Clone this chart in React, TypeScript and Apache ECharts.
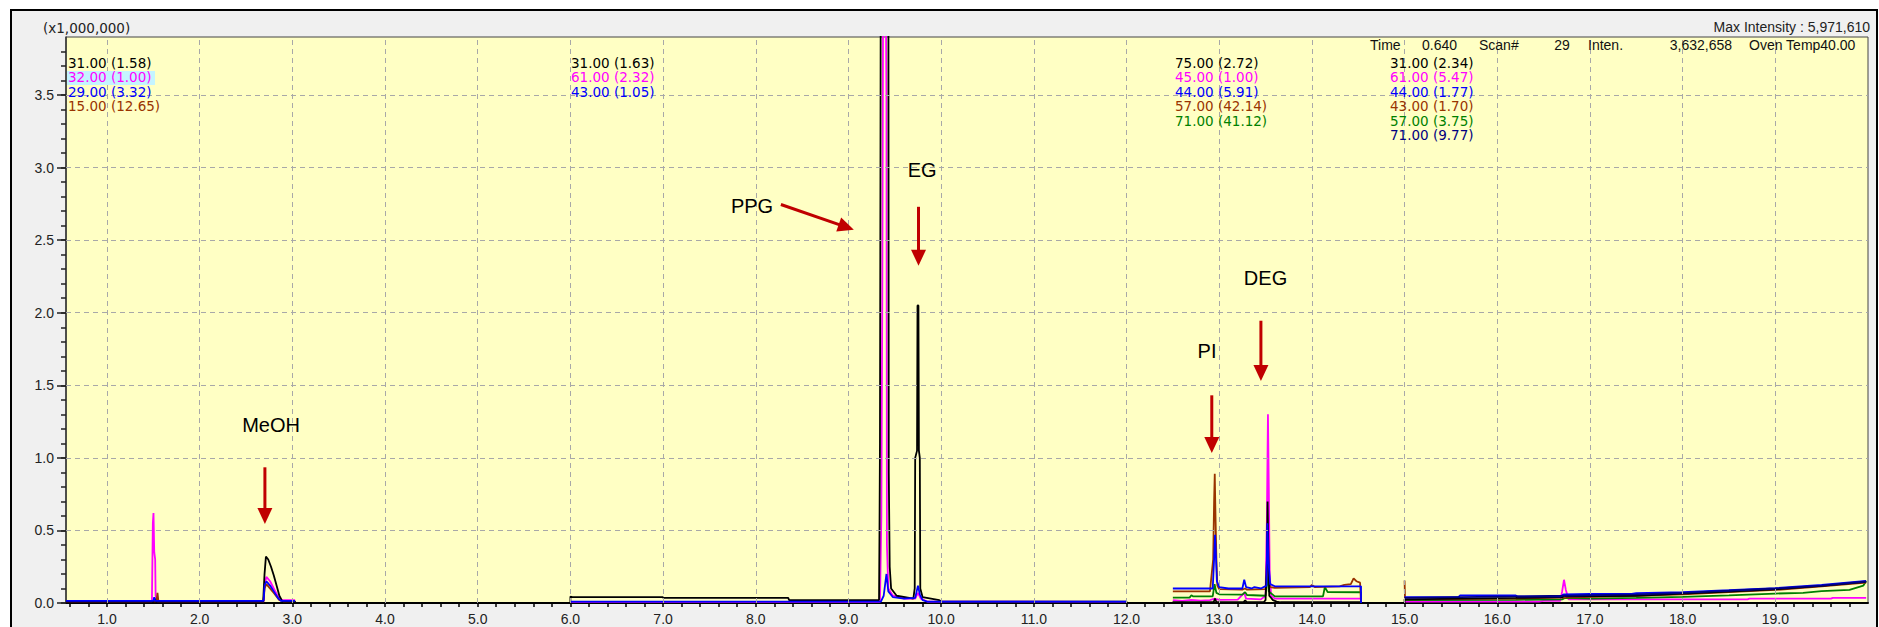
import React, { useEffect, useRef } from "react";
import * as echarts from "echarts";

const W = 1879;
const H = 627;

// ---- axis ranges / ticks ----
const X_MIN = 0.558;
const X_MAX = 20.0;
const Y_MAX = 3.9;
const xLabelValues = [1, 2, 3, 4, 5, 6, 7, 8, 9, 10, 11, 12, 13, 14, 15, 16, 17, 18, 19];
const yLabelValues = [0, 0.5, 1, 1.5, 2, 2.5, 3, 3.5];
const xGridValues = xLabelValues;
const yGridValues = [0.5, 1, 1.5, 2, 2.5, 3, 3.5];
const xMinorTicks: number[] = [];
for (let i = 3; i <= 99; i++) xMinorTicks.push(Math.round(i * 2) / 10);
const yMinorTicks: number[] = [];
for (let i = 0; i <= 38; i++) yMinorTicks.push(i / 10);

// ---- header texts ----
const scaleText = "(x1,000,000)";
const maxIntensityText = "Max Intensity : 5,971,610";
const headerParts: [string, number, "left" | "right" | "center"][] = [
  ["Time", 1370, "left"],
  ["0.640", 1422, "left"],
  ["Scan#", 1479, "left"],
  ["29", 1562, "center"],
  ["Inten.", 1588, "left"],
  ["3,632,658", 1732, "right"],
  ["Oven Temp40.00", 1749, "left"],
];

// ---- ion legend groups (text, colour key) ----
const group1Ions = ["31.00 (1.58)", "32.00 (1.00)", "29.00 (3.32)", "15.00 (12.65)"];
const group1Colors = ["black", "magenta", "blue", "brown"];
const group2Ions = ["31.00 (1.63)", "61.00 (2.32)", "43.00 (1.05)"];
const group2Colors = ["black", "magenta", "blue"];
const group3Ions = ["75.00 (2.72)", "45.00 (1.00)", "44.00 (5.91)", "57.00 (42.14)", "71.00 (41.12)"];
const group3Colors = ["black", "magenta", "blue", "brown", "green"];
const group4Ions = ["31.00 (2.34)", "61.00 (5.47)", "44.00 (1.77)", "43.00 (1.70)", "57.00 (3.75)", "71.00 (9.77)"];
const group4Colors = ["black", "magenta", "blue", "brown", "green", "navy"];

const COLORS: Record<string, string> = {
  black: "#000000",
  magenta: "#FF00FF",
  blue: "#0000FF",
  brown: "#993300",
  green: "#008000",
  navy: "#000080",
};

// ---- traces: [time (min), intensity (x1,000,000)] ----
type P = [number, number | null];
const blackTrace: P[] = [
  [0.558, 0.01], [1.5, 0.01], [1.515, 0.03], [1.53, 0.01], [2.685, 0.01], [2.7, 0.2], [2.715, 0.32],
  [2.74, 0.3], [2.77, 0.25], [2.8, 0.19], [2.83, 0.12], [2.86, 0.05], [2.89, 0.015], [3.03, 0.01],
  [3.03, 0], [6.0, 0], [6.0, 0.045], [6.02, 0.04], [7.0, 0.04], [7.0, 0.035], [8.35, 0.035], [8.36, 0.02],
  [9.33, 0.02], [9.335, 0.5], [9.34, 1.1], [9.345, 2.9], [9.35, 5.0], [9.43, 5.0], [9.435, 0.9], [9.445, 0.25],
  [9.46, 0.1], [9.52, 0.05], [9.7, 0.03], [9.715, 0.1], [9.72, 1.0], [9.74, 1.05], [9.745, 2.05],
  [9.755, 2.05], [9.76, 1.05], [9.77, 1.0], [9.775, 0.1], [9.8, 0.04], [9.98, 0.02], [10.0, 0.01],
  [12.0, 0.01], [12.0, 0], [12.5, 0], [12.5, 0.005], [12.94, 0.005], [12.955, 0.03], [12.97, 0.005],
  [13.26, 0.005], [13.28, 0.018], [13.3, 0.005], [13.48, 0.005], [13.5, 0.02], [13.515, 0.3],
  [13.522, 0.7], [13.53, 0.4], [13.54, 0.05], [13.58, 0.02], [13.62, 0.01], [13.66, 0.005],
  [14.53, 0.005], [14.53, 0], [15.0, 0], [15.0, 0.025], [15.6, 0.03], [16.2, 0.035], [16.7, 0.04],
  [16.72, 0.05], [16.75, 0.045], [17.5, 0.05], [18.0, 0.065], [18.5, 0.078], [19.0, 0.094],
  [19.5, 0.118], [19.98, 0.145],
];
const magentaTrace: P[] = [
  [0.558, 0.012], [1.485, 0.012], [1.495, 0.55], [1.502, 0.62], [1.51, 0.35], [1.52, 0.3], [1.525, 0.05],
  [1.54, 0.012], [2.69, 0.012], [2.7, 0.12], [2.72, 0.18], [2.76, 0.15], [2.8, 0.1], [2.84, 0.05],
  [2.88, 0.02], [3.03, 0.02], [3.03, null],
  [6.0, 0.008], [9.34, 0.008], [9.355, 0.6], [9.365, 2.1], [9.375, 4.5], [9.4, 4.5], [9.41, 3.5],
  [9.415, 0.4], [9.43, 0.1], [9.48, 0.05], [9.6, 0.03], [9.72, 0.03], [9.75, 0.07], [9.78, 0.03],
  [9.85, 0.01], [12.0, 0.008], [12.0, null],
  [12.5, 0.02], [12.6, 0.015], [12.7, 0.022], [12.8, 0.016], [12.9, 0.02], [12.95, 0.03], [13.0, 0.022],
  [13.2, 0.023], [13.27, 0.07], [13.29, 0.03], [13.45, 0.025], [13.5, 0.05], [13.515, 0.6],
  [13.526, 1.3], [13.535, 0.8], [13.545, 0.2], [13.56, 0.05], [13.6, 0.03], [14.53, 0.03], [14.53, 0],
  [14.53, null],
  [15.0, 0.01], [16.45, 0.01], [16.5, 0.015], [16.68, 0.015], [16.7, 0.08], [16.72, 0.16], [16.74, 0.09],
  [16.77, 0.025], [18.7, 0.025], [18.72, 0.03], [19.6, 0.03], [19.62, 0.035], [19.98, 0.035],
];
const blueTrace: P[] = [
  [0.558, 0.014], [1.5, 0.014], [1.51, 0.04], [1.52, 0.014], [2.69, 0.014], [2.7, 0.12], [2.72, 0.15],
  [2.76, 0.12], [2.8, 0.08], [2.85, 0.03], [2.88, 0.014], [3.03, 0.014], [3.03, null],
  [6.0, 0.01], [9.35, 0.01], [9.38, 0.05], [9.41, 0.2], [9.43, 0.08], [9.48, 0.04], [9.6, 0.03],
  [9.72, 0.035], [9.75, 0.12], [9.77, 0.06], [9.8, 0.02], [9.85, 0.01], [12.0, 0.01], [12.0, null],
  [12.5, 0.1], [12.93, 0.1], [12.945, 0.3], [12.955, 0.47], [12.965, 0.32], [12.975, 0.15], [13.0, 0.11],
  [13.1, 0.1], [13.25, 0.1], [13.27, 0.16], [13.29, 0.11], [13.35, 0.1], [13.38, 0.11], [13.45, 0.1],
  [13.51, 0.12], [13.52, 0.55], [13.53, 0.3], [13.55, 0.13], [13.6, 0.115], [14.53, 0.115], [14.53, 0],
  [14.53, null],
  [15.0, 0.04], [15.58, 0.04], [15.6, 0.052], [16.2, 0.052], [16.22, 0.045], [16.68, 0.045], [16.72, 0.06],
  [17.0, 0.062], [17.45, 0.062], [17.5, 0.068], [18.0, 0.075], [18.5, 0.088], [19.0, 0.102],
  [19.5, 0.125], [19.98, 0.152],
];
const brownTrace: P[] = [
  [0.558, 0.012], [1.535, 0.012], [1.545, 0.07], [1.555, 0.012], [2.69, 0.012], [2.7, 0.1], [2.72, 0.13],
  [2.8, 0.07], [2.86, 0.02], [2.9, 0.012], [3.03, 0.012], [3.03, null],
  [12.5, 0.08], [12.9, 0.08], [12.935, 0.3], [12.945, 0.7], [12.952, 0.89], [12.96, 0.6], [12.97, 0.3],
  [12.98, 0.12], [13.0, 0.095], [13.25, 0.092], [13.28, 0.1], [13.3, 0.092], [13.5, 0.095], [13.515, 0.2],
  [13.522, 0.375], [13.53, 0.2], [13.55, 0.11], [13.6, 0.105], [13.98, 0.11], [14.0, 0.125],
  [14.03, 0.11], [14.3, 0.115], [14.35, 0.125], [14.42, 0.13], [14.45, 0.17], [14.48, 0.15],
  [14.52, 0.14], [14.53, 0], [14.53, null],
  [15.0, 0.155], [15.005, 0.025], [16.2, 0.03], [16.7, 0.038], [17.5, 0.05], [18.0, 0.06], [18.5, 0.075],
  [19.0, 0.09], [19.5, 0.115], [19.98, 0.14],
];
const greenTrace: P[] = [
  [12.5, 0.037], [12.68, 0.037], [12.7, 0.053], [12.72, 0.045], [12.93, 0.045], [12.95, 0.13],
  [12.97, 0.07], [13.0, 0.06], [13.25, 0.058], [13.28, 0.075], [13.3, 0.055], [13.5, 0.05], [13.52, 0.2],
  [13.535, 0.08], [13.6, 0.046], [14.12, 0.046], [14.14, 0.11], [14.17, 0.075], [14.53, 0.074],
  [14.53, 0], [14.53, null],
  [15.0, 0.02], [16.2, 0.022], [16.7, 0.025], [16.73, 0.035], [17.0, 0.03], [17.5, 0.035], [18.0, 0.042],
  [18.5, 0.052], [19.0, 0.065], [19.3, 0.07], [19.5, 0.082], [19.8, 0.09], [19.95, 0.12], [19.98, 0.152],
];
const navyTrace: P[] = [
  [15.0, 0.035], [15.6, 0.04], [16.2, 0.045], [16.7, 0.05], [17.5, 0.06], [18.0, 0.07], [18.5, 0.085],
  [19.0, 0.1], [19.5, 0.12], [19.98, 0.148],
];

// ---- peak annotations (data coords) ----
const peakNames = ["MeOH", "PPG", "EG", "PI", "DEG"];
const peakLabelAt: [number, number][] = [[2.77, 1.224], [7.96, 2.738], [9.795, 2.986], [12.869, 1.737], [13.5, 2.24]];
const arrowFrom: [number, number][] = [[2.704, 0.935], [8.271, 2.746], [9.756, 2.73], [12.92, 1.431], [13.45, 1.945]];
const arrowTo: [number, number][] = [[2.704, 0.545], [9.058, 2.572], [9.756, 2.324], [12.92, 1.033], [13.45, 1.53]];

const FONT = '"Liberation Sans", Arial, sans-serif';
const LEG_FONT = '"DejaVu Sans", sans-serif';

export default function App() {
  const ref = useRef<HTMLDivElement>(null);
  useEffect(() => {
    const chart = echarts.init(ref.current!, null, { renderer: "svg" });
    const line = (data: P[], color: string) => ({
      type: "line",
      data,
      symbol: "none",
      showSymbol: false,
      connectNulls: false,
      clip: true,
      silent: true,
      z: 3,
      lineStyle: { color, width: 1.8 },
    });
    const option: any = {
      animation: false,
      grid: {
        left: 66, top: 37, right: W - 1868, bottom: H - 603,
        show: true, backgroundColor: "#FFFFC4", borderColor: "#444", borderWidth: 1,
      },
      xAxis: [{
        type: "value", min: X_MIN, max: X_MAX,
        axisLine: { show: true, onZero: false, lineStyle: { color: "#000", width: 2 } },
        axisTick: { show: true, customValues: xMinorTicks, length: 4, lineStyle: { color: "#000", width: 1.5 } },
        axisLabel: {
          customValues: xLabelValues, formatter: (v: number) => v.toFixed(1),
          color: "#222", fontSize: 14, fontFamily: FONT, margin: 9,
        },
        splitLine: { show: false },
      }],
      yAxis: [
        {
          type: "value", min: 0, max: Y_MAX,
          axisLine: { show: true, onZero: false, lineStyle: { color: "#333", width: 1.5 } },
          axisTick: { show: true, customValues: yLabelValues, length: 9, lineStyle: { color: "#222", width: 1.5 } },
          axisLabel: {
            customValues: yLabelValues, formatter: (v: number) => v.toFixed(1),
            color: "#222", fontSize: 14, fontFamily: FONT, margin: 12,
          },
          splitLine: { show: false },
        },
        {
          type: "value", min: 0, max: Y_MAX, position: "left",
          axisLine: { show: false },
          axisTick: { show: true, customValues: yMinorTicks, length: 5, lineStyle: { color: "#222", width: 1.5 } },
          axisLabel: { show: false },
          splitLine: { show: false },
        },
      ],
      series: [
        {
          type: "line", data: [], silent: true, z: 1,
          markLine: {
            silent: true, symbol: "none", animation: false,
            label: { show: false },
            lineStyle: { type: [5, 4], color: "#A8A8A8", width: 1 },
            data: [...xGridValues.map((v) => ({ xAxis: v })), ...yGridValues.map((v) => ({ yAxis: v }))],
          },
        },
        line(magentaTrace, COLORS.magenta),
        line(greenTrace, COLORS.green),
        line(brownTrace, COLORS.brown),
        line(blackTrace, COLORS.black),
        line(blueTrace, COLORS.blue),
        line(navyTrace, COLORS.navy),
      ],
    };
    chart.setOption(option);

    const graphics: any[] = [];
    const txt = (text: string, x: number, y: number, fill: string, size: number, align = "left", family = FONT) => ({
      type: "text", x, y, silent: true, z: 10,
      style: { text, fill, font: `${size}px ${family}`, textAlign: align, textVerticalAlign: "middle", verticalAlign: "middle" },
    });
    graphics.push(txt(scaleText, 43, 28, "#222", 13.5, "left", LEG_FONT));
    graphics.push(txt(maxIntensityText, 1870, 27, "#222", 14, "right"));
    headerParts.forEach(([t, x, a]) => graphics.push(txt(t, x, 45, "#111", 14, a)));
    // highlight behind the second ion of group 1
    graphics.push({ type: "rect", shape: { x: 67, y: 71, width: 88, height: 14 }, style: { fill: "#C4F4FF" }, z: 9, silent: true });
    const groups: [string[], string[], number][] = [
      [group1Ions, group1Colors, 68],
      [group2Ions, group2Colors, 571],
      [group3Ions, group3Colors, 1175],
      [group4Ions, group4Colors, 1390],
    ];
    groups.forEach(([ions, cols, x]) => {
      ions.forEach((t, i) => graphics.push(txt(t, x, 63 + i * 14.4, COLORS[cols[i]], 13.5, "left", LEG_FONT)));
    });

    const px = (p: [number, number]) => chart.convertToPixel({ gridIndex: 0 }, p) as number[];
    const RED = "#C00000";
    peakNames.forEach((name, i) => {
      const l = px(peakLabelAt[i]);
      graphics.push(txt(name, l[0], l[1], "#000", 20, "center"));
      const a = px(arrowFrom[i]);
      const b = px(arrowTo[i]);
      const dx = b[0] - a[0];
      const dy = b[1] - a[1];
      const len = Math.hypot(dx, dy);
      const ux = dx / len, uy = dy / len;
      const headL = 16, headW = 7.5;
      const bx = b[0] - ux * headL, by = b[1] - uy * headL;
      graphics.push({
        type: "line", silent: true, z: 10,
        shape: { x1: a[0], y1: a[1], x2: bx + ux * 2, y2: by + uy * 2 },
        style: { stroke: RED, lineWidth: 3 },
      });
      graphics.push({
        type: "polygon", silent: true, z: 10,
        shape: { points: [[b[0], b[1]], [bx - uy * headW, by + ux * headW], [bx + uy * headW, by - ux * headW]] },
        style: { fill: RED },
      });
    });
    chart.setOption({ graphic: graphics });
    return () => chart.dispose();
  }, []);

  return (
    <div style={{ position: "absolute", left: 0, top: 0, width: W, height: H, background: "#fff", overflow: "hidden" }}>
      <div style={{ position: "absolute", left: 10, top: 9, width: 1868, height: 700, border: "2px solid #000", background: "#F0F0F0", boxSizing: "border-box" }} />
      <div ref={ref} style={{ position: "absolute", left: 0, top: 0, width: W, height: H }} />
    </div>
  );
}
